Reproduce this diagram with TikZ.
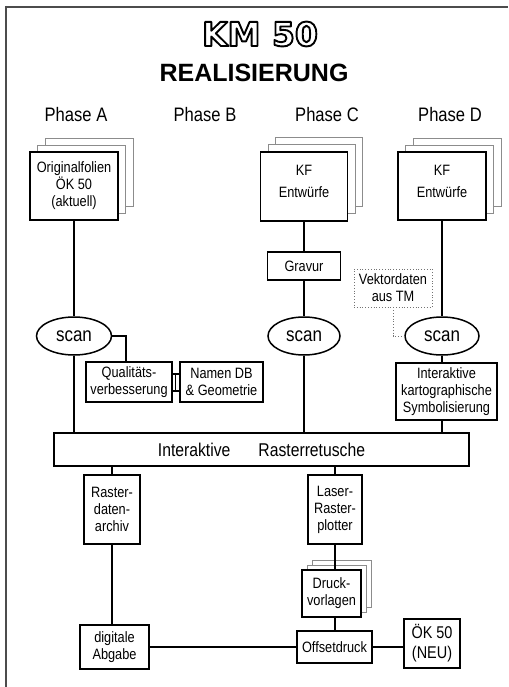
\documentclass[tikz,border=0pt]{standalone}
\usepackage{fontspec}
\newfontfamily\narrow[FakeStretch=0.85]{Liberation Sans}
\newfontfamily\plainsans{Liberation Sans}
\newfontfamily\roundfont{DejaVu Sans}
\usetikzlibrary{shapes.geometric}
\newcommand\outlinedtxt[1]{{\color{white}\special{pdf:literal 2 Tr 1.9 w 0 0 0 RG 1 j}#1\special{pdf:literal 0 Tr 0.4 w 0 j}}}
\begin{document}
\begin{tikzpicture}[x=1pt,y=-1pt,
  box/.style={draw,line width=1.5pt,fill=white,inner sep=0pt,align=center,
    font=\narrow\fontsize{15}{17}\selectfont},
  front/.style={box,line width=1.8pt},
  sheet/.style={draw=black!45,line width=0.6pt,fill=white,inner sep=0pt},
  txt/.style={inner sep=0pt,align=center,font=\narrow\fontsize{15}{17}\selectfont},
  phase/.style={inner sep=0pt,font=\narrow\fontsize{19.5}{22}\selectfont},
  scanell/.style={ellipse,draw,line width=1.5pt,fill=white,inner sep=0pt,
    minimum height=38pt,font=\narrow\fontsize{20}{22}\selectfont},
  conn/.style={line width=1.4pt},
  vek/.style={draw=black!55,dotted,line width=0.8pt,inner sep=0pt,align=center,
    font=\narrow\fontsize{15}{17}\selectfont}
]
\useasboundingbox (0,0) rectangle (508,687);
\fill[white] (0,0) rectangle (508,687);
% frame
\draw[line width=1.8pt,black!70] (5,7) -- (508,7);
\draw[line width=1.8pt,black!70] (6,6) -- (6,687);

% title
\node[inner sep=0pt,font=\roundfont\bfseries\fontsize{33}{35}\selectfont] (km) at (260,34) {\outlinedtxt{KM 50}};
\node[inner sep=0pt,font=\plainsans\bfseries\fontsize{25}{28}\selectfont] (real) at (254,73) {REALISIERUNG};

% phases
\node[phase] (pA) at (76,115) {Phase A};
\node[phase] (pB) at (205,115) {Phase B};
\node[phase] (pC) at (327,115) {Phase C};
\node[phase] (pD) at (450,115) {Phase D};

% stacked sheets top
\node[sheet,minimum width=88pt,minimum height=68pt] (a3) at (89,172) {};
\node[sheet,minimum width=88pt,minimum height=68pt] (a2) at (81.5,179) {};
\node[front,minimum width=88pt,minimum height=68pt] (a1) at (74,186) {Originalfolien\\ÖK 50\\(aktuell)};

\node[sheet,minimum width=87pt,minimum height=69pt] (c3) at (319,172) {};
\node[sheet,minimum width=87pt,minimum height=69pt] (c2) at (311.5,179) {};
\node[front,minimum width=87pt,minimum height=69pt] (c1) at (304,186.5) {};
\node[txt] (c1t) at (304,181) {KF\\[5pt]Entwürfe};

\node[sheet,minimum width=88pt,minimum height=68pt] (d3) at (457,172) {};
\node[sheet,minimum width=88pt,minimum height=68pt] (d2) at (449.5,179) {};
\node[front,minimum width=88pt,minimum height=68pt] (d1) at (442,186) {};
\node[txt] (d1t) at (442,181) {KF\\[5pt]Entwürfe};

% middle
\node[box,minimum width=73pt,minimum height=28pt] (grav) at (304,266) {Gravur};
\node[vek,minimum width=78pt,minimum height=38pt] (vekt) at (393,288) {Vektordaten\\aus TM};

\node[scanell,minimum width=75pt] (sA) at (74,336) {scan};
\node[scanell,minimum width=72pt] (sC) at (304,336) {scan};
\node[scanell,minimum width=74pt] (sD) at (442,336) {scan};

\node[box,minimum width=86pt,minimum height=40pt] (qual) at (129,382) {Qualitäts-\\verbesserung};
\node[box,minimum width=83pt,minimum height=40pt] (namen) at (221.5,382) {Namen DB\\\& Geometrie};
\node[box,minimum width=101pt,minimum height=57pt] (sym) at (446.5,391.5) {Interaktive\\kartographische\\Symbolisierung};

\node[box,minimum width=415pt,minimum height=33pt,font=\narrow\fontsize{18.5}{20}\selectfont] (big) at (261.5,449.5) {Interaktive\hspace{28pt}Rasterretusche};

% lower
\node[box,minimum width=56pt,minimum height=69pt] (rda) at (112,509.5) {Raster-\\daten-\\archiv};
\node[box,minimum width=54pt,minimum height=69pt] (lrp) at (335,509.5) {Laser-\\Raster-\\plotter};

\node[sheet,minimum width=59pt,minimum height=47pt] (dv3) at (341.5,583.5) {};
\node[sheet,minimum width=59pt,minimum height=47pt] (dv2) at (336.5,588.5) {};
\node[front,minimum width=59pt,minimum height=47pt] (dv1) at (331.5,593.5) {Druck-\\vorlagen};

\node[box,minimum width=69pt,minimum height=44pt] (dig) at (114.5,647) {digitale\\Abgabe};
\node[box,minimum width=75pt,minimum height=32pt] (off) at (334.5,647) {Offsetdruck};
\node[box,minimum width=56pt,minimum height=49pt,font=\narrow\fontsize{17}{20}\selectfont] (neu) at (432,643.5) {ÖK 50\\(NEU)};

% connectors
\draw[conn] (a1.south) -- (sA.north);
\draw[conn] (sA.south) -- (sA.south |- big.north);
\draw[conn] (c1.south) -- (grav.north);
\draw[conn] (grav.south) -- (sC.north);
\draw[conn] (sC.south) -- (sC.south |- big.north);
\draw[conn] (d1.south) -- (sD.north);
\draw[conn] (sD.south) -- (sD.south |- sym.north);
\draw[conn] (sD.south |- sym.south) -- (sD.south |- big.north);
\draw[conn] (sA.east) -| ([xshift=-3pt]qual.north);
\draw[line width=1.1pt] ([yshift=8pt]qual.east) -- ([yshift=8pt]namen.west);
\draw[line width=1.1pt] ([yshift=-9pt]qual.east) -- ([yshift=-9pt]namen.west);
\draw[line width=1.1pt] ([yshift=8pt,xshift=2.5pt]qual.east) -- ([yshift=-9pt,xshift=2.5pt]qual.east);
\draw[draw=black!55,dotted,line width=0.8pt] (vekt.south) |- (sD.west);

\draw[conn] (rda.north |- big.south) -- (rda.north);
\draw[conn] (lrp.north |- big.south) -- (lrp.north);
\draw[conn] (rda.south) -- (rda.south |- dig.north);
\draw[conn] (lrp.south) -- (lrp.south |- dv1.north);
\draw[conn] (lrp.south |- dv1.south) -- (lrp.south |- off.north);
\draw[line width=1.1pt] (dig.east) -- (off.west);
\draw[conn,line width=1.6pt] (off.east) -- (off.east -| neu.west);
\end{tikzpicture}
\end{document}
